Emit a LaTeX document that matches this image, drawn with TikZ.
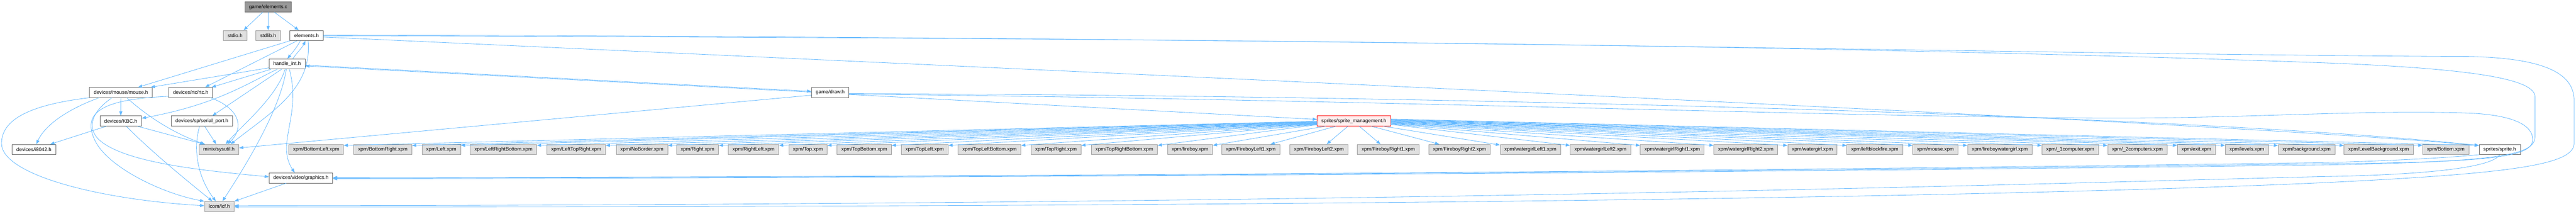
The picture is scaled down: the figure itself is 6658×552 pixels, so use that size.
\documentclass[tikz,border=0pt]{standalone}
\usepackage{fontspec}
\setmainfont{Liberation Sans}
\usetikzlibrary{arrows.meta}
\definecolor{edgeblue}{HTML}{63B8FF}
\definecolor{boxgray}{HTML}{999999}
\definecolor{boxdark}{HTML}{666666}
\definecolor{extfill}{HTML}{E0E0E0}
\definecolor{truncfill}{HTML}{FFF0F0}

\begin{document}
\begin{tikzpicture}[x=1pt, y=-1pt,
    filebox/.style={draw=boxdark, fill=white, line width=1pt, minimum height=26pt,
      inner xsep=11pt, inner ysep=0pt, anchor=west, font=\fontsize{13}{15}\selectfont},
    extbox/.style={filebox, draw=boxgray, fill=extfill},
    rootbox/.style={filebox, draw=boxdark, fill=boxgray},
    truncbox/.style={filebox, draw=red, fill=truncfill},
    incl/.style={draw=edgeblue, line width=1.1pt, -{Triangle[length=11pt, width=8pt]}}]
  \useasboundingbox (0,0) rectangle (6658,552);

  % Files
  \node[rootbox] (root) at (632,18) {game/elements.c};
  \node[extbox] (stdio) at (577,91.6) {stdio.h};
  \node[extbox] (stdlib) at (661,91.6) {stdlib.h};
  \node[filebox] (elemh) at (749,91.6) {elements.h};
  \node[filebox] (hint) at (695,165.2) {handle\_int.h};
  \node[filebox] (mouse) at (231,238.8) {devices/mouse/mouse.h};
  \node[filebox] (rtc) at (436,238.8) {devices/rtc/rtc.h};
  \node[filebox] (drawh) at (2097,238.8) {game/draw.h};
  \node[filebox] (kbc) at (258,312.4) {devices/KBC.h};
  \node[filebox] (serial) at (442,312.4) {devices/sp/serial\_port.h};
  \node[truncbox] (spm) at (3404,312.4) {sprites/sprite\_management.h};
  \node[filebox] (i8042) at (31,386) {devices/i8042.h};
  \node[extbox] (sysutil) at (514,386) {minix/sysutil.h};
  \foreach \nm/\lbl/\lx in {
      xBottomLeft/BottomLeft/746, xBottomRight/BottomRight/914, xLeft/Left/1090,
      xLeftRightBottom/LeftRightBottom/1215, xLeftTopRight/LeftTopRight/1413,
      xNoBorder/NoBorder/1592, xRight/Right/1748, xRightLeft/RightLeft/1882,
      xTop/Top/2038, xTopBottom/TopBottom/2163, xTopLeft/TopLeft/2329,
      xTopLeftBottom/TopLeftBottom/2476, xTopRight/TopRight/2664,
      xTopRightBottom/TopRightBottom/2820, xfireboy/fireboy/3017,
      xFireboyLeft1/FireboyLeft1/3157, xFireboyLeft2/FireboyLeft2/3333,
      xFireboyRight1/FireboyRight1/3508, xFireboyRight2/FireboyRight2/3692,
      xwatergirlLeft1/watergirlLeft1/3877, xwatergirlLeft2/watergirlLeft2/4058,
      xwatergirlRight1/watergirlRight1/4239, xwatergirlRight2/watergirlRight2/4429,
      xwatergirl/watergirl/4620, xleftblockfire/leftblockfire/4773,
      xmouse/mouse/4943, xfireboywatergirl/fireboywatergirl/5085,
      xOneComputer/\_1computer/5277, xTwoComputers/\_2computers/5447,
      xexit/exit/5627, xlevels/levels/5751, xbackground/background/5888,
      xLevelBackground/LevelBackground/6058, xBottom/Bottom/6261}
    \node[extbox] (\nm) at (\lx,386) {xpm/\lbl.xpm};
  \node[filebox] (sprite) at (6407,386) {sprites/sprite.h};
  \node[filebox] (graphics) at (695,459.6) {devices/video/graphics.h};
  \node[extbox] (lcf) at (528,533.2) {lcom/lcf.h};

  % game/elements.c
  \draw[incl] ([xshift=-14pt]root.south) -- ([xshift=22pt]stdio.north);
  \draw[incl] (root.south) -- (stdlib.north);
  \draw[incl] ([xshift=16pt]root.south) -- ([xshift=-20pt]elemh.north);

  % elements.h
  \draw[incl] ([xshift=-16pt]elemh.south) .. controls (766,125) and (752,140) .. ([xshift=1pt]hint.north);
  \draw[incl] ([xshift=-42pt]elemh.south) -- ([xshift=44pt]mouse.north);
  \draw[incl] ([xshift=-24pt]elemh.south) -- ([xshift=37pt]rtc.north);
  \draw[incl] ([xshift=4pt]elemh.south) .. controls (808,230) and (700,290) .. ([xshift=30pt]sysutil.north);
  \draw[incl] ([yshift=-4pt]elemh.east) .. controls (4000,240) and (5800,322) .. ([yshift=-3pt]sprite.north west);
  \draw[incl] ([yshift=1pt]elemh.east) .. controls (3500,95) and (5200,140) .. (6380,146)
    .. controls (6600,150) and (6653,200) .. (6653,260) -- (6653,370)
    .. controls (6653,425) and (6500,448) .. (6000,472)
    .. controls (5200,508) and (3500,536) .. ([yshift=-1pt]lcf.east);
  \draw[incl] ([yshift=-1pt]elemh.east) .. controls (3500,98) and (5000,126) .. (6000,162)
    .. controls (6400,177) and (6552,205) .. (6552,250) -- (6552,352)
    .. controls (6552,398) and (6480,418) .. (6000,426)
    .. controls (4800,442) and (2800,459) .. ([yshift=-2pt]graphics.east);

  % handle_int.h
  \draw[incl] ([xshift=15pt]hint.north) .. controls (768,135) and (782,122) .. ([xshift=-3pt]elemh.south);
  \draw[incl] ([yshift=-10pt]hint.west) -- ([xshift=-5pt]mouse.north east);
  \draw[incl] ([xshift=-41pt]hint.south) -- ([xshift=-3pt]rtc.north east);
  \draw[incl] ([xshift=-25pt]hint.south) .. controls (640,215) and (560,270) .. ([yshift=7pt]kbc.east);
  \draw[incl] ([xshift=-14pt]hint.south) -- ([xshift=27pt]serial.north);
  \draw[incl] ([xshift=-5pt]hint.south) .. controls (715,250) and (630,320) .. ([xshift=17pt]sysutil.north);
  \draw[incl] ([xshift=-2pt]hint.south) .. controls (725,280) and (640,420) .. ([xshift=8pt]lcf.north);
  \draw[incl] ([xshift=6pt]hint.south) .. controls (780,300) and (712,370) .. ([xshift=-16pt]graphics.north);
  \draw[incl] ([yshift=-3pt]hint.east) -- ([yshift=3pt]drawh.west);

  % game/draw.h
  \draw[incl] ([yshift=1pt]drawh.west) -- ([yshift=-5pt]hint.east);
  \draw[incl] ([yshift=-7pt]drawh.west) -- ([yshift=4pt]sysutil.east);
  \draw[incl] ([yshift=-5pt]drawh.east) -- ([yshift=4pt]spm.west);
  \draw[incl] ([yshift=-3pt]drawh.east) .. controls (3600,245) and (5600,292) .. ([yshift=-3pt]sprite.north west);
  \draw[incl] ([yshift=-4pt]drawh.east) .. controls (3500,256) and (4800,303) .. (5450,305)
    .. controls (5800,306) and (6100,283) .. (6380,292)
    .. controls (6500,297) and (6546,325) .. (6546,360)
    .. controls (6546,405) and (6450,419) .. (6000,423)
    .. controls (4800,440) and (2800,458) .. (graphics.east);

  % devices/mouse/mouse.h
  \draw[incl] (mouse.south west) .. controls (100,268) and (3,300) .. (4,371)
    .. controls (5,450) and (250,515) .. ([yshift=2pt]lcf.west);
  \draw[incl] ([xshift=-56pt]mouse.south) .. controls (180,280) and (118,320) .. ([xshift=6pt]i8042.north);
  \draw[incl] ([xshift=-23pt]mouse.south) .. controls (235,290) and (225,330) .. (255,360)
    .. controls (320,420) and (520,440) .. ([yshift=3pt]graphics.west);
  \draw[incl] (mouse.south) -- (kbc.north);
  \draw[incl] ([xshift=15pt]mouse.south) .. controls (380,300) and (450,345) .. ([xshift=-36pt]sysutil.north);

  % devices/rtc/rtc.h
  \draw[incl] ([yshift=-10pt]rtc.west) .. controls (260,256) and (212,292) .. (245,362)
    .. controls (278,432) and (420,500) .. (lcf.north west);
  \draw[incl] ([xshift=51pt]rtc.south) .. controls (620,280) and (632,330) .. ([xshift=22pt]sysutil.north);

  % devices/KBC.h
  \draw[incl] ([xshift=-37pt]kbc.south) -- ([xshift=42pt]i8042.north);
  \draw[incl] ([xshift=14pt]kbc.south) .. controls (400,400) and (500,480) .. ([xshift=-18pt]lcf.north);
  \draw[incl] ([xshift=43pt]kbc.south) -- ([xshift=-38pt]sysutil.north);

  % devices/sp/serial_port.h
  \draw[incl] ([xshift=-6pt]serial.south) .. controls (495,400) and (520,470) .. ([xshift=-9pt]lcf.north);
  \draw[incl] ([xshift=7pt]serial.south) -- ([xshift=-7pt]sysutil.north);

  % devices/video/graphics.h
  \draw[incl] ([xshift=-38pt]graphics.south) -- (lcf.north east);

  % sprites/sprite_management.h
  \foreach \nm [count=\i] in {xBottomLeft, xBottomRight, xLeft, xLeftRightBottom, xLeftTopRight,
      xNoBorder, xRight, xRightLeft, xTop, xTopBottom, xTopLeft, xTopLeftBottom, xTopRight,
      xTopRightBottom}
    \draw[incl] ([yshift={-0.7*\i*1pt}]spm.west) -- ([yshift=-3pt]\nm.north east);
  \draw[incl] ([xshift=22pt]spm.south west) -- ([yshift=-3pt]xfireboy.north east);
  \draw[incl] ([xshift=49pt]spm.south west) -- ([xshift=-25pt]xFireboyLeft1.north east);
  \draw[incl] ([xshift=80pt]spm.south west) -- ([xshift=20pt]xFireboyLeft2.north);
  \draw[incl] ([xshift=109pt]spm.south west) -- ([xshift=-20pt]xFireboyRight1.north);
  \draw[incl] ([xshift=140pt]spm.south west) -- ([xshift=28pt]xFireboyRight2.north west);
  \draw[incl] ([xshift=171pt]spm.south west) -- ([yshift=-2pt]xwatergirlLeft1.north west);
  \foreach \nm [count=\i] in {xwatergirlLeft2, xwatergirlRight1, xwatergirlRight2, xwatergirl,
      xleftblockfire, xmouse, xfireboywatergirl, xOneComputer, xTwoComputers, xexit, xlevels,
      xbackground, xLevelBackground, xBottom, sprite}
    \draw[incl] ([yshift={(\i-10)*1pt}]spm.east) -- ([yshift=-3pt]\nm.north west);

  % sprites/sprite.h
  \draw[incl] (sprite.south west) .. controls (6300,410) and (6100,418) .. (6000,420)
    .. controls (4800,438) and (2800,457) .. ([yshift=1pt]graphics.east);
  \draw[incl] (sprite.south) .. controls (6440,435) and (6250,452) .. (6000,456)
    .. controls (5200,476) and (3500,530) .. ([yshift=2pt]lcf.east);
\end{tikzpicture}
\end{document}
